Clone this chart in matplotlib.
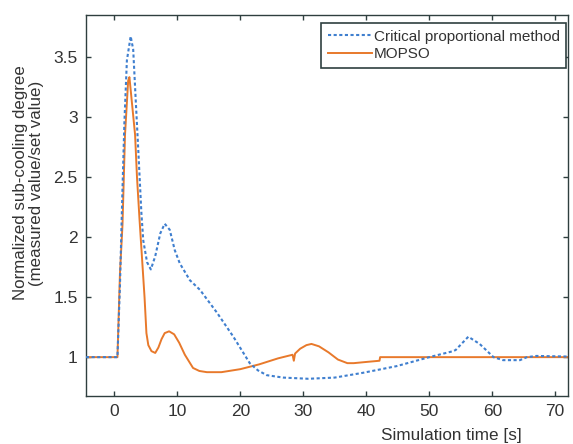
import matplotlib
matplotlib.use("Agg")
import matplotlib.pyplot as plt

plt.rcParams['font.family'] = ['Liberation Sans', 'DejaVu Sans']

# Critical proportional method (dotted blue)
cp_t = [-4.5, 0.5, 0.9, 1.3, 1.6, 2.0, 2.6, 3.0, 3.4, 3.8, 4.3, 4.6, 5.2, 5.8,
        6.5, 7.3, 8.0, 8.8, 9.6, 10.4, 12.0, 13.6, 16.3, 18.9, 21.5, 22.8,
        24.2, 26.8, 30.8, 35.0, 39.5, 44.8, 50.0, 53.8, 54.2, 56.2, 58.0,
        60.2, 61.7, 64.4, 65.5, 67.0, 72.0]
cp_y = [1.0, 1.0, 1.6, 2.4, 2.95, 3.47, 3.67, 3.56, 3.14, 2.73, 2.2, 1.97, 1.79,
        1.73, 1.84, 2.03, 2.11, 2.06, 1.89, 1.78, 1.64, 1.56, 1.37, 1.17, 0.95,
        0.89, 0.85, 0.83, 0.82, 0.83, 0.87, 0.925, 1.0, 1.05, 1.06, 1.17, 1.11,
        1.0, 0.975, 0.975, 1.0, 1.01, 1.005]

# MOPSO (solid orange)
mo_t = [-4.5, 0.5, 0.9, 1.3, 1.7, 2.2, 2.4, 3.3, 3.6, 4.0, 4.8, 5.1, 5.4, 5.9,
        6.5, 7.0, 7.5, 8.0, 8.7, 9.5, 10.3, 11.2, 12.5, 13.5, 14.7, 17.0,
        20.0, 23.0, 26.0, 28.3, 28.5, 28.7, 29.5, 30.5, 31.3, 32.5, 34.0,
        35.5, 37.0, 38.0, 40.0, 42.1, 42.2, 72.0]
mo_y = [1.0, 1.0, 1.7, 2.1, 2.85, 3.3, 3.33, 2.85, 2.5, 2.15, 1.5, 1.2, 1.1,
        1.05, 1.035, 1.08, 1.15, 1.2, 1.215, 1.19, 1.12, 1.02, 0.91, 0.885,
        0.875, 0.875, 0.9, 0.94, 0.99, 1.02, 0.97, 1.03, 1.07, 1.1, 1.11, 1.09,
        1.04, 0.98, 0.95, 0.95, 0.96, 0.97, 1.0, 1.0]

x_ticks = [0, 10, 20, 30, 40, 50, 60, 70]
y_ticks = [1, 1.5, 2, 2.5, 3, 3.5]
y_tick_labels = ['1', '1.5', '2', '2.5', '3', '3.5']

spine_col = '#2f3f3f'
text_col = '#333333'

fig = plt.figure(figsize=(5.73, 4.44), dpi=100)
ax = fig.add_axes([0.150, 0.109, 0.841, 0.858])

ax.plot(cp_t, cp_y, color='#3f7fcf', lw=1.5, ls=(0, (1.5, 1.2)),
        label='Critical proportional method', zorder=3)
ax.plot(mo_t, mo_y, color='#e8792b', lw=1.4, label='MOPSO', zorder=2)

ax.set_xlim(-4.5, 72)
ax.set_ylim(0.68, 3.85)
ax.set_xticks(x_ticks)
ax.set_yticks(y_ticks)
ax.set_yticklabels(y_tick_labels)

ax.tick_params(direction='in', length=3.5, width=1, top=True, right=True,
               labelsize=12.5, labelcolor=text_col, color=spine_col, pad=6)
for s in ax.spines.values():
    s.set_color(spine_col)
    s.set_linewidth(1.0)

ax.set_ylabel('Normalized sub-cooling degree\n(measured value/set value)',
              fontsize=12.2, color=text_col, linespacing=1.05)
ax.yaxis.set_label_coords(-0.088, 0.558)
ax.set_xlabel('Simulation time [s]', fontsize=12.3, color=text_col, ha='right')
ax.xaxis.set_label_coords(0.905, -0.086)

leg = ax.legend(loc='upper right', bbox_to_anchor=(0.997, 0.979),
                borderaxespad=0, fontsize=11, handlelength=2.9,
                handletextpad=0.1, labelspacing=0.25, borderpad=0.45,
                fancybox=False, framealpha=1)
leg.get_frame().set_edgecolor(spine_col)
leg.get_frame().set_linewidth(1.2)
for t in leg.get_texts():
    t.set_color(text_col)

fig.savefig('out.png', dpi=100)
